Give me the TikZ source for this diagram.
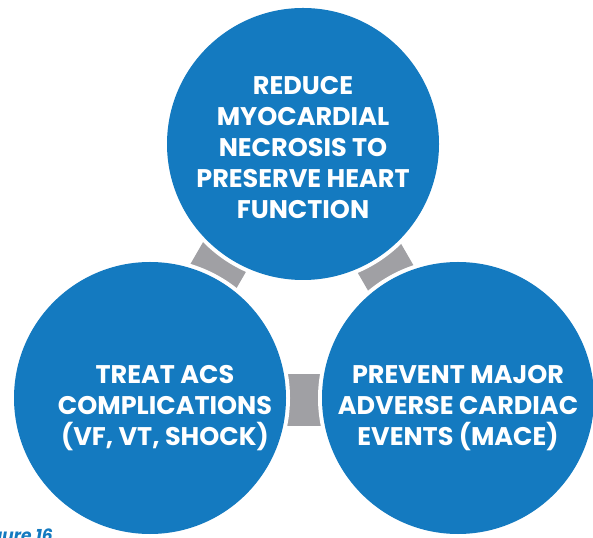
\documentclass[tikz,border=0pt]{standalone}
\usepackage{fontspec}
\setmainfont{Poppins}
\begin{document}
\begin{tikzpicture}[x=1pt,y=1pt,
  bluec/.style={circle,fill=cblue,minimum size=272pt,inner sep=0pt},
  halo/.style={circle,fill=white,minimum size=280pt,inner sep=0pt},
  lbl/.style={text=white,font=\bfseries\fontsize{25.5}{31}\selectfont,align=center},
  link/.style={fill=cgray,minimum width=52pt,minimum height=48pt,inner sep=0pt}]
\definecolor{cblue}{RGB}{20,122,192}
\definecolor{cgray}{RGB}{160,160,164}
\useasboundingbox (0,0) rectangle (593,537);
\clip (0,0) rectangle (593,537);
% connectors
\node[link,rotate=-30] (l1) at (219,270.5) {};
\node[link,rotate=30] (l2) at (385,269) {};
\node[link,rotate=90] (l3) at (304,137) {};
% white halos
\node[halo] (h1) at (303,393) {};
\node[halo] (h2) at (150,139) {};
\node[halo] (h3) at (458,139) {};
% circles
\node[bluec] (c1) at (303,393) {};
\node[bluec] (c2) at (150,139) {};
\node[bluec] (c3) at (458,139) {};
\node[lbl] (t1) at (303,389) {REDUCE\\MYOCARDIAL\\NECROSIS TO\\PRESERVE HEART\\FUNCTION};
\node[lbl] (t2) at (165,129) {TREAT ACS\\COMPLICATIONS\\(VF, VT, SHOCK)};
\node[lbl] (t3) at (458,129) {PREVENT MAJOR\\ADVERSE CARDIAC\\EVENTS (MACE)};
\node[anchor=base east,text=cblue,font=\bfseries\itshape\fontsize{17}{20}\selectfont,inner sep=0pt] (fig) at (53,-4) {Figure 16};
\end{tikzpicture}
\end{document}
